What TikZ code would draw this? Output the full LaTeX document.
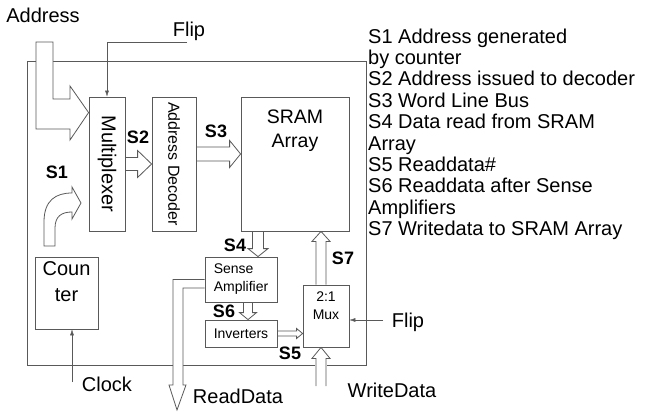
\documentclass[tikz,border=0pt]{standalone}
\usepackage{fontspec}
\setmainfont{Liberation Sans}
\usetikzlibrary{calc,arrows.meta}

\newcommand{\blockH}[5]{\draw[barrow] let \p1=(#1), \p2=(#2) in (\x1,\y1+#3) -- (\x2-#5,\y1+#3) -- (\x2-#5,\y1+#4) -- (\x2,\y1) -- (\x2-#5,\y1-#4) -- (\x2-#5,\y1-#3) -- (\x1,\y1-#3);}
\newcommand{\blockV}[5]{\draw[barrow] let \p1=(#1), \p2=(#2) in (\x1-#3,\y1) -- (\x1-#3,\y2+#5) -- (\x1-#4,\y2+#5) -- (\x2,\y2) -- (\x1+#4,\y2+#5) -- (\x1+#3,\y2+#5) -- (\x1+#3,\y1);}

\begin{document}
\begin{tikzpicture}[x=1pt,y=-1pt,>={Latex[length=6pt,width=4pt]},
	box/.style={draw=black!65,line width=0.8pt,inner sep=0pt},
	barrow/.style={draw=black!65,line width=0.8pt},
	sig/.style={font=\bfseries\fontsize{18}{18}\selectfont},
	lbl/.style={font=\fontsize{20}{24}\selectfont},
	small/.style={font=\fontsize{14}{18}\selectfont}]
	\useasboundingbox (0,0) rectangle (647,414);
	\draw[draw=black!65,line width=0.8pt] (27,61) rectangle (366,365);

	\node[box,minimum width=36,minimum height=134] (mux) at (107,164) {};
	\node[lbl,rotate=-90] at (mux) {Multiplexer};
	\node[box,minimum width=44,minimum height=134] (dec) at (174,164) {};
	\node[rotate=-90,font=\fontsize{16}{16}\selectfont] at (dec) {Address Decoder};
	\node[box,minimum width=108,minimum height=134,label={[align=center,anchor=north,yshift=-10pt,font=\fontsize{19.5}{24}\selectfont]north:SRAM\\Array}] (sram) at (295,164) {};
	\node[box,minimum width=63,minimum height=72,label={[align=center,anchor=north,yshift=-1pt,font=\fontsize{20}{26}\selectfont]north:Coun\\ter}] (cnt) at (66.5,293) {};
	\node[box,small,align=left,minimum width=72,minimum height=45] (sense) at (241,279.5) {Sense\\Amplifier};
	\node[box,small,minimum width=72,minimum height=27] (inv) at (241,333.5) {Inverters};
	\node[box,minimum width=46,minimum height=62,label={[small,align=center,inner sep=0pt,anchor=north,yshift=-7pt]north:{2:1\\Mux}}] (mux2) at (326,316) {};

	\node[lbl] (addr) at (43,15) {Address};
	\node[lbl] (flipa) at (189,31) {Flip};
	\node[lbl] (flipb) at (408,322) {Flip};
	\node[lbl] (clk) at (107,384.5) {Clock};
	\node[lbl] (rd) at (238,396) {ReadData};
	\node[lbl] (wd) at (392,390) {WriteData};

	\node[sig] at (57,172) {S1};
	\node[sig] at (138,137) {S2};
	\node[sig] at (216,131) {S3};
	\node[sig] at (235,245) {S4};
	\node[sig] at (290,353) {S5};
	\node[sig] at (224,311) {S6};
	\node[sig] at (343,258) {S7};

	\coordinate (flipin) at (187,42);
	\draw[->,black!65] (flipin) -- (flipin -| mux.north) -- (mux.north);
	\coordinate (clkin) at (72,382);
	\draw[->,black!65] (clkin) -- (clkin |- cnt.south);
	\coordinate (flipbin) at (383,320);
	\draw[->,black!65] (flipbin) -- (flipbin -| mux2.east);

	\draw[barrow,fill=white] (36,42) -- (53,42) -- (53,99) -- (70,99) -- (70,86) -- ($(mux.north west)+(0,16)$) -- (70,140) -- (70,129) -- (36,129) -- cycle;
	\draw[barrow] (44,246) -- (44,222) .. controls (44,200) and (56,193) .. (72,193) -- (72,187) -- (81,203) -- (72,219) -- (72,212) .. controls (62,212) and (55,216) .. (55,228) -- (55,246) -- cycle;
	\draw[barrow,fill=white] (sense.west) -- (173,279.5) -- (173,385) -- (169,385) -- (177,410) -- (186,385) -- (183,385) -- (183,288) -- ($(sense.west)+(0,8.5)$);

	\blockH{mux.east}{dec.west}{6.5pt}{13.5pt}{14pt}
	\blockH{$(dec.east)+(0,-10)$}{$(sram.west)+(0,-10)$}{7pt}{13.5pt}{11pt}
	\blockH{inv.east}{inv.east -| mux2.west}{2.5pt}{5pt}{6pt}
	\coordinate (s4) at ($(sense.north)+(17,0)$);
	\blockV{sram.south -| s4}{s4}{5.5pt}{10pt}{8pt}
	\coordinate (s6) at ($(inv.north)+(7,0)$);
	\blockV{sense.south -| s6}{s6}{4.5pt}{8.5pt}{7pt}
	\coordinate (s7) at ($(mux2.north)+(-5,0)$);
	\blockV{s7}{sram.south -| s7}{5pt}{9pt}{-10pt}
	\coordinate (wdin) at (321,386);
	\draw[fill=white,draw=none] (315,358) rectangle (327,367);
	\blockV{wdin}{wdin |- mux2.south}{5pt}{9pt}{-11pt}

	\node[anchor=north west,inner sep=0pt,align=left,font=\fontsize{20}{21.4}\selectfont] (legend) at (368,28.4) {S1 Address generated\\by counter\\S2 Address issued to decoder\\S3 Word Line Bus\\S4 Data read from SRAM\\Array\\S5 Readdata\#\\S6 Readdata after Sense\\Amplifiers\\S7 Writedata to SRAM Array};
\end{tikzpicture}
\end{document}
